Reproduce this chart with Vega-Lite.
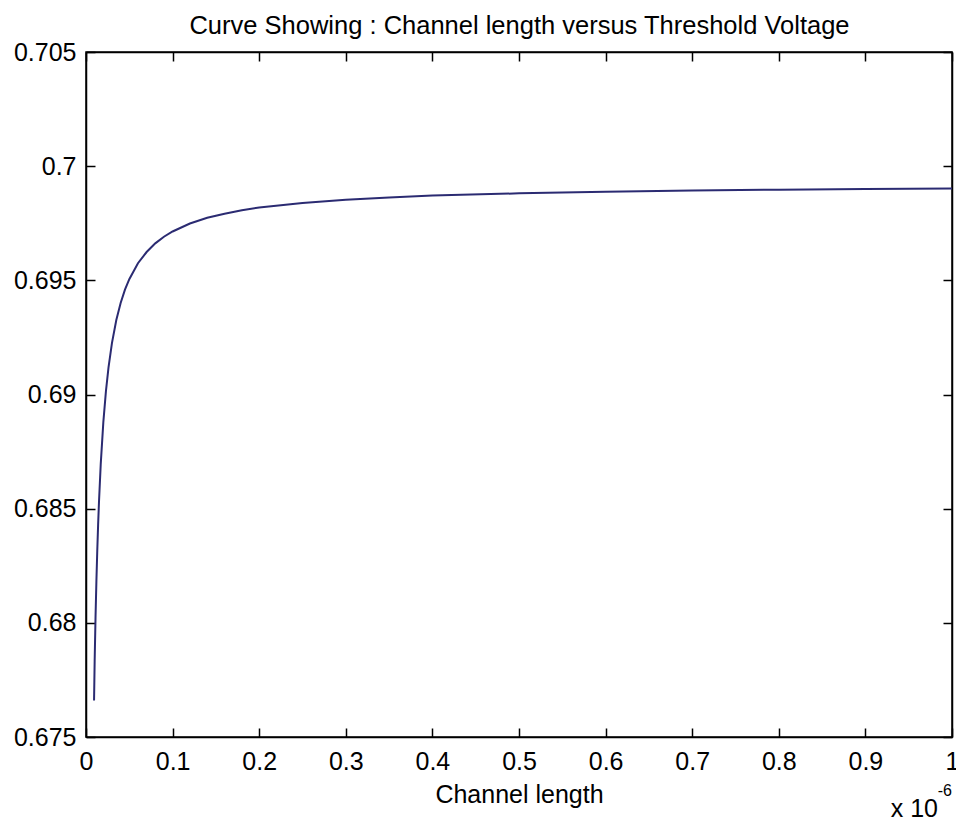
{
  "$schema": "https://vega.github.io/schema/vega-lite/v6.json",
  "width": 866,
  "height": 685,
  "autosize": {"type": "none"},
  "padding": {"left": 86, "top": 52, "right": 4, "bottom": 84},
  "background": "white",
  "data": {
    "values": [
      {"L": 9.3e-9, "Vth": 0.6766},
      {"L": 1.0e-8, "Vth": 0.67833},
      {"L": 1.1e-8, "Vth": 0.68023},
      {"L": 1.2e-8, "Vth": 0.68181},
      {"L": 1.3e-8, "Vth": 0.68315},
      {"L": 1.4e-8, "Vth": 0.6843},
      {"L": 1.5e-8, "Vth": 0.6853},
      {"L": 1.7e-8, "Vth": 0.68694},
      {"L": 2.0e-8, "Vth": 0.68878},
      {"L": 2.3e-8, "Vth": 0.69014},
      {"L": 2.6e-8, "Vth": 0.69119},
      {"L": 3.0e-8, "Vth": 0.69226},
      {"L": 3.5e-8, "Vth": 0.69326},
      {"L": 4.0e-8, "Vth": 0.69401},
      {"L": 4.5e-8, "Vth": 0.69459},
      {"L": 5.0e-8, "Vth": 0.69505},
      {"L": 6.0e-8, "Vth": 0.69575},
      {"L": 7.0e-8, "Vth": 0.69624},
      {"L": 8.0e-8, "Vth": 0.69662},
      {"L": 9.0e-8, "Vth": 0.69691},
      {"L": 1.0e-7, "Vth": 0.69714},
      {"L": 1.2e-7, "Vth": 0.69749},
      {"L": 1.4e-7, "Vth": 0.69774},
      {"L": 1.6e-7, "Vth": 0.69792},
      {"L": 1.8e-7, "Vth": 0.69807},
      {"L": 2.0e-7, "Vth": 0.69819},
      {"L": 2.5e-7, "Vth": 0.69839},
      {"L": 3.0e-7, "Vth": 0.69853},
      {"L": 3.5e-7, "Vth": 0.69863},
      {"L": 4.0e-7, "Vth": 0.69871},
      {"L": 5.0e-7, "Vth": 0.69881},
      {"L": 6.0e-7, "Vth": 0.69888},
      {"L": 7.0e-7, "Vth": 0.69893},
      {"L": 8.0e-7, "Vth": 0.69897},
      {"L": 9.0e-7, "Vth": 0.699},
      {"L": 1.0e-6, "Vth": 0.69902}
    ]
  },
  "config": {
    "view": {"stroke": "#000000", "strokeWidth": 1.5},
    "axis": {
      "grid": false,
      "domain": true,
      "domainColor": "#000000",
      "domainWidth": 1.5,
      "tickColor": "#000000",
      "tickWidth": 1.5,
      "tickSize": -9,
      "labelColor": "#000000",
      "labelFont": "Liberation Sans",
      "labelFontSize": 25,
      "labelOverlap": false,
      "labelFlush": false,
      "titleFont": "Liberation Sans",
      "titleFontSize": 25,
      "titleFontWeight": "normal",
      "titleColor": "#000000"
    }
  },
  "layer": [
    {
      "mark": {"type": "line", "color": "#2b2b72", "strokeWidth": 2, "clip": true},
      "encoding": {
        "x": {
          "field": "L",
          "type": "quantitative",
          "scale": {"domain": [0, 1e-6], "nice": false, "zero": false},
          "axis": {
            "orient": "bottom",
            "values": [0, 1e-7, 2e-7, 3e-7, 4e-7, 5e-7, 6e-7, 7e-7, 8e-7, 9e-7, 1e-6],
            "labelExpr": "format(datum.value * 1000000, '.1~f')",
            "labelPadding": 21,
            "title": "Channel length",
            "titleBaseline": "alphabetic",
            "titleY": 65
          }
        },
        "y": {
          "field": "Vth",
          "type": "quantitative",
          "scale": {"domain": [0.675, 0.705], "nice": false, "zero": false},
          "axis": {
            "orient": "left",
            "values": [0.675, 0.68, 0.685, 0.69, 0.695, 0.7, 0.705],
            "format": ".3~f",
            "labelPadding": 19,
            "title": null
          }
        }
      }
    },
    {
      "mark": {"type": "line", "opacity": 0},
      "encoding": {
        "x": {
          "field": "L",
          "type": "quantitative",
          "axis": {
            "orient": "top",
            "values": [0, 1e-7, 2e-7, 3e-7, 4e-7, 5e-7, 6e-7, 7e-7, 8e-7, 9e-7, 1e-6],
            "labels": false,
            "title": "Curve Showing : Channel length versus Threshold Voltage",
            "titleFontSize": 25.5,
            "titleBaseline": "alphabetic",
            "titleY": -19
          }
        },
        "y": {
          "field": "Vth",
          "type": "quantitative",
          "axis": {
            "orient": "right",
            "values": [0.675, 0.68, 0.685, 0.69, 0.695, 0.7, 0.705],
            "labels": false,
            "title": null
          }
        }
      }
    },
    {
      "data": {"values": [{"label": "x 10"}]},
      "mark": {"type": "text", "align": "right", "baseline": "alphabetic", "dx": -14, "dy": 80, "font": "Liberation Sans", "fontSize": 25, "color": "#000000"},
      "encoding": {
        "text": {"field": "label"},
        "x": {"datum": 1e-6, "type": "quantitative", "axis": null},
        "y": {"datum": 0.675, "type": "quantitative", "axis": null}
      }
    },
    {
      "data": {"values": [{"label": "-6"}]},
      "mark": {"type": "text", "align": "right", "baseline": "alphabetic", "dx": 0, "dy": 59, "font": "Liberation Sans", "fontSize": 16, "color": "#000000"},
      "encoding": {
        "text": {"field": "label"},
        "x": {"datum": 1e-6, "type": "quantitative", "axis": null},
        "y": {"datum": 0.675, "type": "quantitative", "axis": null}
      }
    }
  ],
  "resolve": {"axis": {"x": "independent", "y": "independent"}}
}
